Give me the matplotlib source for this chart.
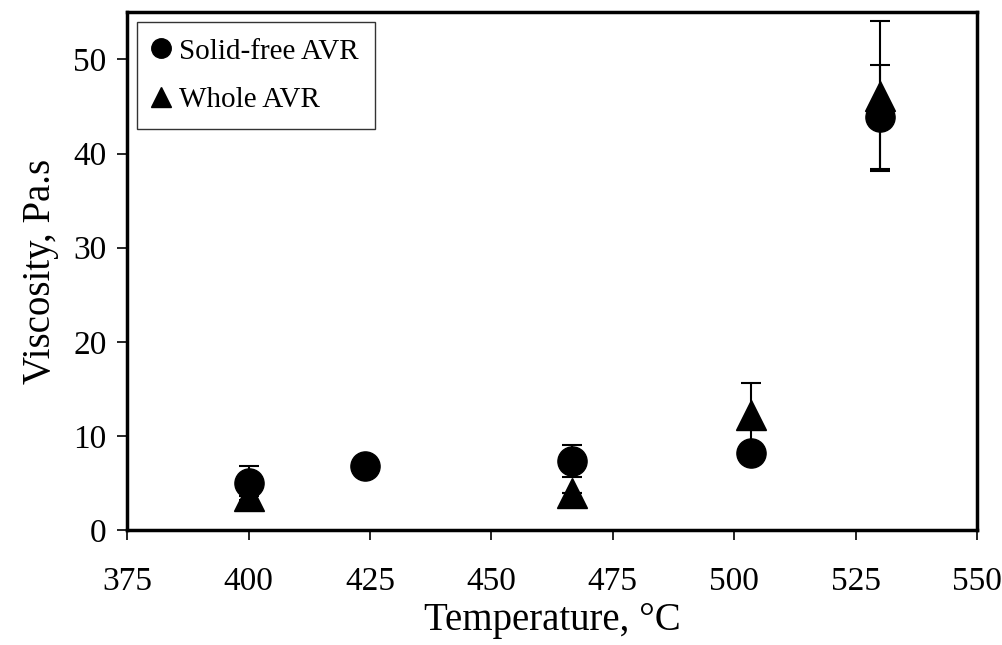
import numpy as np
import matplotlib.pyplot as plt
from matplotlib.lines import Line2D

plt.rcParams['font.family'] = 'serif'
plt.rcParams['font.serif'] = ['Liberation Serif', 'DejaVu Serif']

# data
temp_solidfree = [400, 424, 466.5, 503.5, 530]
visc_solidfree = [5.0, 6.8, 7.3, 8.2, 43.9]
err_solidfree = [1.8, 0.0, 1.7, 0.8, 5.5]

temp_whole = [400, 466.5, 503.5, 530]
visc_whole = [3.6, 3.9, 12.2, 46.1]
err_whole = [0.0, 0.0, 3.4, 8.0]

xticks = [375, 400, 425, 450, 475, 500, 525, 550]
yticks = [0, 10, 20, 30, 40, 50]

fig = plt.figure(figsize=(10.02, 6.45), dpi=100)
ax = fig.add_axes([0.127, 0.178, 0.848, 0.803])

ax.errorbar(temp_whole, visc_whole, yerr=err_whole, fmt='^', color='black',
            markersize=21, ecolor='black', elinewidth=1.5, capsize=7, capthick=1.5,
            zorder=3)
ax.errorbar(temp_solidfree, visc_solidfree, yerr=err_solidfree, fmt='o', color='black',
            markersize=21, ecolor='black', elinewidth=1.5, capsize=7, capthick=1.5,
            zorder=4)

ax.set_xlim(375, 550)
ax.set_ylim(0, 55)
ax.set_xticks(xticks)
ax.set_yticks(yticks)
ax.tick_params(direction='out', length=7, width=1.2, labelsize=24)
ax.tick_params(axis='x', pad=19)
ax.tick_params(axis='y', pad=8)
for s in ax.spines.values():
    s.set_linewidth(2.5)

ax.set_xlabel('Temperature, °C', fontsize=28, labelpad=4)
ax.set_ylabel('Viscosity, Pa.s', fontsize=28, labelpad=10)

handles = [Line2D([], [], marker='o', color='black', linestyle='none', markersize=14),
           Line2D([], [], marker='^', color='black', linestyle='none', markersize=14)]
leg = ax.legend(handles, ['Solid-free AVR', 'Whole AVR'], loc='upper left', fontsize=21,
                frameon=True, fancybox=False, edgecolor='black',
                handlelength=0.6, handletextpad=0.3, borderpad=0.55,
                labelspacing=0.75, bbox_to_anchor=(0.011, 0.981), borderaxespad=0)
leg.get_frame().set_linewidth(1.0)

fig.savefig('out.png', dpi=100)
